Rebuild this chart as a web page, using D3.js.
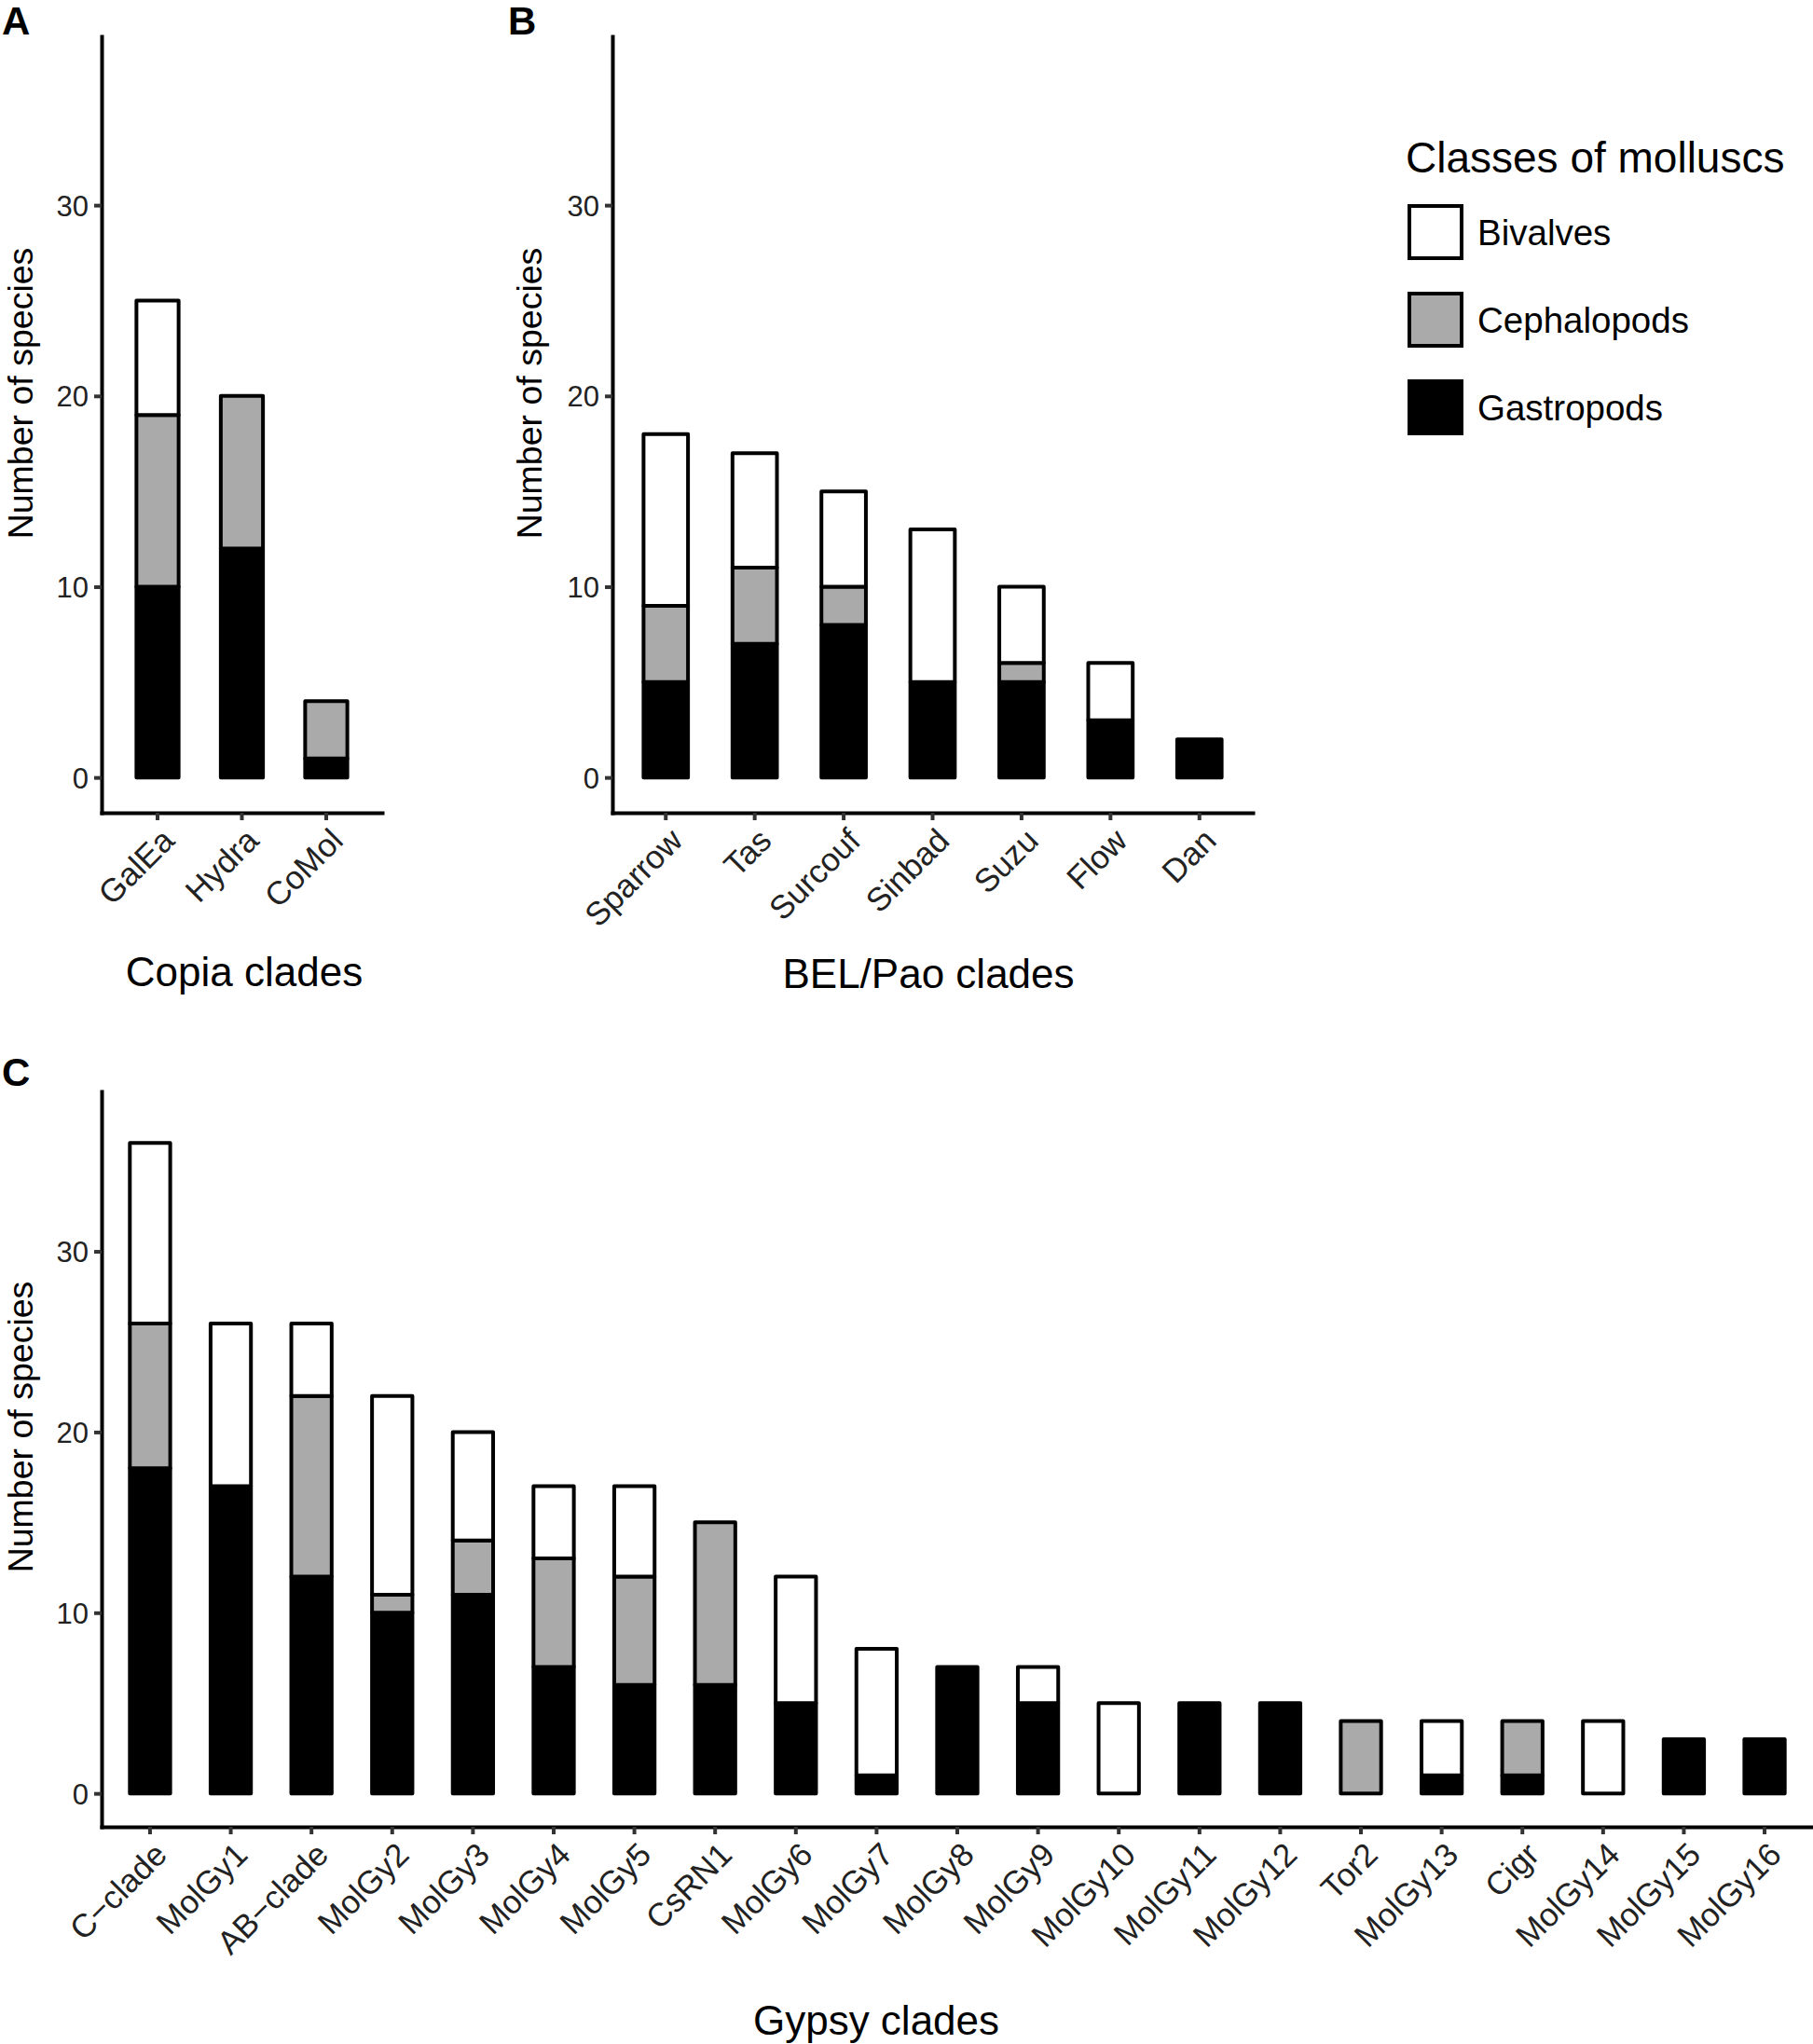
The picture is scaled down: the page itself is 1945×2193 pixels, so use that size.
<!DOCTYPE html>
<html>
<head>
<meta charset="utf-8">
<script src="https://cdn.jsdelivr.net/npm/d3@7"></script>
<style>
  body { margin: 0; background: #fff; }
  text { font-family: "Liberation Sans", Arial, Helvetica, sans-serif; }
</style>
</head>
<body>
<div id="chart"></div>
<script>
// Data
const classes = ["Bivalves", "Cephalopods", "Gastropods"];
const classColors = ["#ffffff", "#aaaaaa", "#000000"];
const stackKeys = ["Gastropods", "Cephalopods", "Bivalves"]; // bottom -> top
const yTicks = [0, 10, 20, 30];

const copiaClades = ["GalEa", "Hydra", "CoMol"];
const copiaGastropods = [10, 12, 1];
const copiaCephalopods = [9, 8, 3];
const copiaBivalves = [6, 0, 0];

const belClades = ["Sparrow", "Tas", "Surcouf", "Sinbad", "Suzu", "Flow", "Dan"];
const belGastropods = [5, 7, 8, 5, 5, 3, 2];
const belCephalopods = [4, 4, 2, 0, 1, 0, 0];
const belBivalves = [9, 6, 5, 8, 4, 3, 0];

const gypsyClades = ["C\u2212clade", "MolGy1", "AB\u2212clade", "MolGy2", "MolGy3", "MolGy4", "MolGy5",
  "CsRN1", "MolGy6", "MolGy7", "MolGy8", "MolGy9", "MolGy10", "MolGy11", "MolGy12", "Tor2",
  "MolGy13", "Cigr", "MolGy14", "MolGy15", "MolGy16"];
const gypsyGastropods = [18, 17, 12, 10, 11, 7, 6, 6, 5, 1, 7, 5, 0, 5, 5, 0, 1, 1, 0, 3, 3];
const gypsyCephalopods = [8, 0, 10, 1, 3, 6, 6, 9, 0, 0, 0, 0, 0, 0, 0, 4, 0, 3, 0, 0, 0];
const gypsyBivalves = [10, 9, 4, 11, 6, 4, 5, 0, 7, 7, 0, 2, 5, 0, 0, 0, 3, 0, 4, 0, 0];

const width = 1945, height = 2193;
const colorScale = d3.scaleOrdinal(classes, classColors);

const svg = d3.select("#chart")
              .append("svg")
              .attr("width", width)
              .attr("height", height);

function drawPanel(p) {
  const rows = p.clades.map((c, i) => ({
    clade: c,
    Gastropods: p.gastropods[i],
    Cephalopods: p.cephalopods[i],
    Bivalves: p.bivalves[i]
  }));
  const series = d3.stack().keys(stackKeys)(rows);

  const x = d3.scaleBand(p.clades, [p.left, p.right]).paddingInner(0).paddingOuter(p.padOuter);
  const y = d3.scaleLinear([-1.85, 38.85], [p.bottom, p.top]);
  const barW = x.step() * 0.5;

  const g = svg.append("g");

  // bars, bottom segment first
  series.forEach(s => {
    g.append("g")
     .selectAll("rect")
     .data(s.filter(d => d[1] > d[0]))
     .join("rect")
     .attr("x", d => x(d.data.clade) + (x.bandwidth() - barW) / 2)
     .attr("y", d => y(d[1]))
     .attr("width", barW)
     .attr("height", d => y(d[0]) - y(d[1]))
     .attr("fill", colorScale(s.key))
     .attr("stroke", "#000")
     .attr("stroke-width", 4)
     .attr("stroke-linejoin", "round");
  });

  const yAxis = d3.axisLeft(y).tickValues(yTicks).tickSize(8).tickPadding(6).tickSizeOuter(0);
  const xAxis = d3.axisBottom(x).tickSize(8).tickSizeOuter(0);

  const ya = g.append("g")
              .attr("transform", "translate(" + p.left + ",0)")
              .call(yAxis);
  const xa = g.append("g")
              .attr("transform", "translate(0," + p.bottom + ")")
              .call(xAxis);

  [ya, xa].forEach(a => {
    a.attr("font-size", null).attr("font-family", null);
    a.select(".domain").attr("stroke", "#000").attr("stroke-width", 4).attr("stroke-linecap", "square");
    a.selectAll(".tick line").attr("stroke", "#333").attr("stroke-width", 4);
    a.selectAll(".tick text").attr("fill", "#222");
  });
  ya.selectAll(".tick text").attr("dy", "0.36em").style("font-size", "31px");
  xa.selectAll(".tick text")
    .attr("x", 0).attr("y", 0).attr("dy", 0)
    .attr("transform", "translate(20,32) rotate(-45)")
    .style("text-anchor", "end")
    .style("font-size", "35px");

  // axis titles
  g.append("text")
   .attr("x", p.titleX)
   .attr("y", p.titleY)
   .attr("text-anchor", "middle")
   .style("font-size", "44px")
   .text(p.title);

  g.append("text")
   .attr("transform", "translate(" + p.yTitleX + "," + p.yTitleY + ") rotate(-90)")
   .attr("text-anchor", "middle")
   .style("font-size", "37.5px")
   .text("Number of species");

  // panel letter
  g.append("text")
   .attr("x", p.letterX)
   .attr("y", p.letterY)
   .style("font-size", "42px")
   .style("font-weight", "bold")
   .text(p.letter);
}

drawPanel({
  clades: copiaClades, gastropods: copiaGastropods, cephalopods: copiaCephalopods, bivalves: copiaBivalves,
  left: 109, right: 410, top: 39, bottom: 872, padOuter: 0.163,
  title: "Copia clades", titleX: 262, titleY: 1058,
  yTitleX: 35, yTitleY: 422, letter: "A", letterX: 2, letterY: 37
});

drawPanel({
  clades: belClades, gastropods: belGastropods, cephalopods: belCephalopods, bivalves: belBivalves,
  left: 657, right: 1344, top: 39, bottom: 872, padOuter: 0.1,
  title: "BEL/Pao clades", titleX: 996, titleY: 1060,
  yTitleX: 581, yTitleY: 422, letter: "B", letterX: 545, letterY: 37
});

drawPanel({
  clades: gypsyClades, gastropods: gypsyGastropods, cephalopods: gypsyCephalopods, bivalves: gypsyBivalves,
  left: 109, right: 1945, top: 1171, bottom: 1960, padOuter: 0.1,
  title: "Gypsy clades", titleX: 940, titleY: 2183,
  yTitleX: 35, yTitleY: 1531, letter: "C", letterX: 2, letterY: 1165
});

// Legend
const legend = svg.append("g");
legend.append("text")
      .attr("x", 1508)
      .attr("y", 185)
      .style("font-size", "46px")
      .text("Classes of molluscs");

const items = legend.selectAll("g.item")
                    .data(classes)
                    .join("g")
                    .attr("class", "item")
                    .attr("transform", (d, i) => "translate(1512," + (221 + i * 94) + ")");
items.append("rect")
     .attr("width", 56)
     .attr("height", 56)
     .attr("fill", d => colorScale(d))
     .attr("stroke", "#000")
     .attr("stroke-width", 4);
items.append("text")
     .attr("x", 73)
     .attr("y", 28)
     .attr("dy", "0.36em")
     .style("font-size", "38.5px")
     .text(d => d);
</script>
</body>
</html>
